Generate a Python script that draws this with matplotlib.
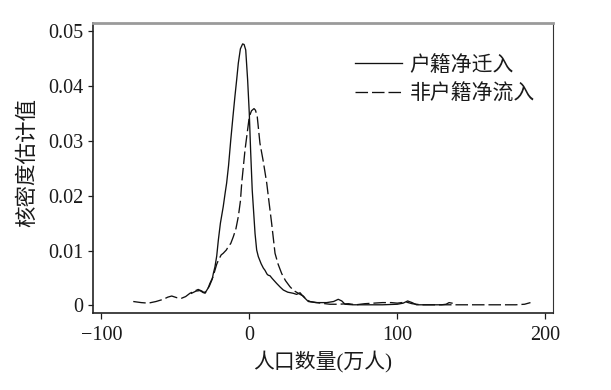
import matplotlib
matplotlib.use("Agg")
import matplotlib.pyplot as plt

# ---- data ----
hukou_x = [-39, -36, -33.3, -31, -29.3, -27, -25, -24.3, -23.2, -22, -20.9, -19.5, -17.6,
           -16.3, -15.3, -14, -12.5, -11, -9.7, -8.5, -7.4, -6, -4.5, -3.5, -2.4, -1.1,
           0, 0.9, 2.0, 3.9, 5, 6.1, 8, 9.5, 10.6, 12, 12.8, 14, 15.5, 18.5, 21, 23, 26,
           29.7, 32, 34.3, 36.5, 39.9, 45, 52.3, 57, 60.1, 62.5, 64.7, 70, 80, 90, 100,
           104, 107, 110, 113, 120, 130, 133, 135, 137]
hukou_y = [0.0022, 0.0026, 0.0027, 0.0023, 0.0025, 0.0035, 0.0048, 0.0058, 0.0070, 0.0090,
           0.0119, 0.0150, 0.0180, 0.0205, 0.0223, 0.0255, 0.0302, 0.0345, 0.0381, 0.0412,
           0.0442, 0.0468, 0.0477, 0.0476, 0.0466, 0.0411, 0.0351, 0.0283, 0.0210, 0.0131,
           0.0101, 0.0089, 0.0076, 0.0068, 0.0064, 0.0057, 0.0055, 0.0054, 0.0049, 0.0040,
           0.0033, 0.0028, 0.0024, 0.0022, 0.0020, 0.0023, 0.0016, 0.0007, 0.0005, 0.0005,
           0.0007, 0.0011, 0.0008, 0.0002, 0.0001, 0.0001, 0.0001, 0.0002, 0.0004, 0.0008,
           0.0005, 0.0001, 0.0001, 0.0001, 0.0002, 0.0005, 0.0004]

nonhukou_x = [-78.4, -73, -68.2, -63, -58.1, -55, -52.4, -49, -45.7, -43, -40.1, -37, -34.5,
              -32, -29.9, -28, -26.6, -24.5, -22, -20.9, -19, -17.6, -15.5, -14.2, -12.5,
              -10.8, -9, -7.4, -6, -5.1, -2.9, 0, 1.5, 3.2, 4.2, 5.4, 7.2, 9.5, 11.8, 13.5,
              15.1, 17.4, 19.5, 21.9, 24.5, 27.5, 30, 33.1, 35, 36.5, 38.5, 41, 48, 54.5,
              60, 67, 72, 78, 84, 90, 96, 100, 106, 110, 116, 140, 160, 180, 186, 190]
nonhukou_y = [0.0007, 0.0005, 0.0004, 0.0007, 0.0011, 0.0015, 0.0017, 0.0014, 0.0013, 0.0016,
              0.0022, 0.0026, 0.0029, 0.0026, 0.0022, 0.0030, 0.0040, 0.0052, 0.0075, 0.0082,
              0.0092, 0.0095, 0.0101, 0.0107, 0.0113, 0.0125, 0.0140, 0.0162, 0.0190, 0.0223,
              0.0283, 0.0344, 0.0355, 0.0359, 0.0356, 0.0344, 0.0296, 0.0262, 0.0223, 0.0185,
              0.0150, 0.0095, 0.0075, 0.0058, 0.0045, 0.0034, 0.0027, 0.0022, 0.0019, 0.0017,
              0.0011, 0.0007, 0.0004, 0.0002, 0.0002, 0.0003, 0.0001, 0.0003, 0.0004, 0.0005,
              0.0005, 0.0004, 0.0006, 0.0003, 0.0001, 0.0001, 0.0001, 0.0001, 0.0002, 0.0005]

series_labels = ["户籍净迁入", "非户籍净流入"]
x_ticks = [-100, 0, 100, 200]
x_ticklabels = ["\u2212100", "0", "100", "200"]
y_ticks = [0, 0.01, 0.02, 0.03, 0.04, 0.05]
y_ticklabels = ["0", "0.01", "0.02", "0.03", "0.04", "0.05"]
x_label = "人口数量(万人)"
y_label = "核密度估计值"

# ---- figure ----
serif = ["Liberation Serif", "DejaVu Serif"]
cjk = ["Liberation Serif", "Noto Sans CJK SC", "DejaVu Sans"]
txt = "#1a1a1a"

fig = plt.figure(figsize=(6.11, 3.90), dpi=100)
ax = fig.add_axes([0.1517, 0.1974, 0.7538, 0.7428])

ax.plot(hukou_x, hukou_y, color="#111111", lw=0.95, label=series_labels[0])
ax.plot(nonhukou_x, nonhukou_y, color="#111111", lw=0.95, linestyle=(0, (9.5, 3)),
        label=series_labels[1])

ax.set_xlim(-105.8, 205.4)
ax.set_ylim(-0.0014, 0.05146)

ax.set_xticks(x_ticks)
ax.set_xticklabels(x_ticklabels, fontfamily=serif, fontsize=14.5, color=txt)
ax.set_yticks(y_ticks)
ax.set_yticklabels(y_ticklabels, fontfamily=serif, fontsize=14.5, color=txt)
ax.tick_params(axis="x", direction="out", length=4, width=0.9, pad=5, colors=txt)
ax.tick_params(axis="y", direction="out", length=3.7, width=0.9, pad=3, colors=txt)

for side in ("left", "bottom"):
    ax.spines[side].set_color("#222222")
    ax.spines[side].set_linewidth(1.2)
ax.spines["right"].set_color("#333333")
ax.spines["right"].set_linewidth(0.8)
ax.spines["top"].set_color("#9a9a9a")
ax.spines["top"].set_linewidth(2.0)

ax.set_xlabel(x_label, fontfamily=cjk, fontsize=15, color=txt, labelpad=4)
ax.set_ylabel(y_label, fontfamily=cjk, fontsize=15.5, color=txt)
ax.yaxis.set_label_coords(-0.118, 0.521)

leg = ax.legend(loc="upper left", bbox_to_anchor=(0.570, 0.888), frameon=False,
                prop={"family": cjk, "size": 15}, handlelength=2.26,
                handletextpad=0.34, labelspacing=0.41, borderpad=0, borderaxespad=0)
for t in leg.get_texts():
    t.set_color(txt)

fig.savefig("out.png", dpi=100)
